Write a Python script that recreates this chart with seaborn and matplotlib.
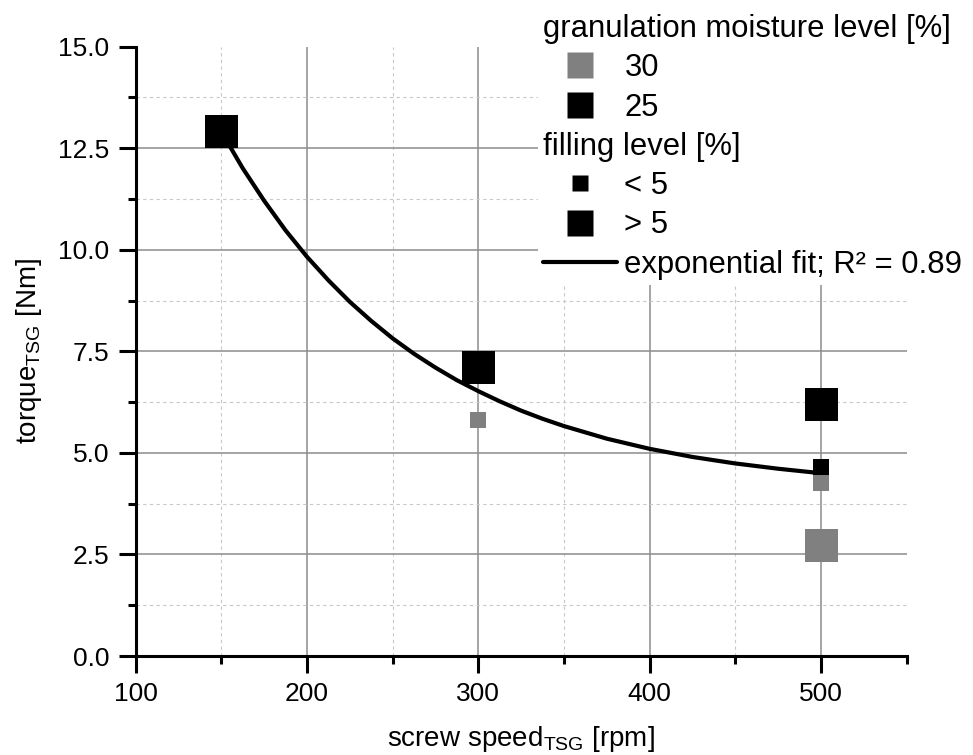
import numpy as np
import pandas as pd
import seaborn as sns
import matplotlib
matplotlib.use("Agg")
import matplotlib.pyplot as plt
from matplotlib.lines import Line2D
from matplotlib.ticker import MultipleLocator, FormatStrFormatter

# ---------------- data ----------------
speed = [300, 500, 500, 150, 300, 500, 500]
torque = [5.8, 4.27, 2.72, 12.9, 7.1, 6.2, 4.65]
moisture = ['30', '30', '30', '25', '25', '25', '25']
filling = ['< 5', '< 5', '> 5', '> 5', '> 5', '> 5', '< 5']

# exponential fit curve
fit_speed = [150, 162.5, 175, 187.5, 200, 212.5, 225, 237.5, 250, 262.5, 275, 287.5,
             300, 312.5, 325, 337.5, 350, 375, 400, 425, 450, 475, 500]
fit_torque = [12.91, 12.01, 11.21, 10.48, 9.83, 9.25, 8.72, 8.25, 7.82, 7.44, 7.10, 6.79,
              6.52, 6.27, 6.04, 5.84, 5.66, 5.35, 5.10, 4.90, 4.74, 4.61, 4.50]

moisture_levels = ['30', '25']
filling_levels = ['< 5', '> 5']
moisture_title = 'granulation moisture level [%]'
filling_title = 'filling level [%]'
fit_label = 'exponential fit; R² = 0.89'

x_label = r'screw speed$_{\mathregular{TSG}}$ [rpm]'
y_label = r'torque$_{\mathregular{TSG}}$ [Nm]'

# ---------------- style ----------------
sns.set_theme(style='white')
plt.rcParams['font.family'] = ['Liberation Sans', 'DejaVu Sans']
plt.rcParams['mathtext.fontset'] = 'custom'
plt.rcParams['mathtext.rm'] = 'Liberation Sans'
for k in ['text.color', 'axes.labelcolor', 'xtick.color', 'ytick.color']:
    plt.rcParams[k] = 'black'

palette = {'30': '#808080', '25': '#000000'}
sizes = {'< 5': 132, '> 5': 566}

df = pd.DataFrame({'speed': speed, 'torque': torque,
                   'moisture': moisture, 'filling': filling})

fig = plt.figure(figsize=(9.73, 7.55), dpi=100)
ax = fig.add_axes([0.1393, 0.1311, 0.7926, 0.8071])

sns.lineplot(x=fit_speed, y=fit_torque, color='black', lw=3, ax=ax, zorder=2,
             sort=False, estimator=None)
sns.scatterplot(data=df, x='speed', y='torque', hue='moisture', palette=palette,
                size='filling', sizes=sizes, marker='s', linewidth=0,
                legend=False, zorder=3, ax=ax)

ax.set_xlim(100, 550)
ax.set_ylim(0, 15)
ax.xaxis.set_major_locator(MultipleLocator(100))
ax.xaxis.set_minor_locator(MultipleLocator(50))
ax.yaxis.set_major_locator(MultipleLocator(2.5))
ax.yaxis.set_minor_locator(MultipleLocator(1.25))
ax.yaxis.set_major_formatter(FormatStrFormatter('%.1f'))

ax.set_axisbelow(True)
ax.grid(which='major', color='#8c8c8c', lw=1.1, ls='-')
ax.grid(which='minor', color='#c8c8c8', lw=0.8, ls=(0, (3, 3)))

for s in ['top', 'right']:
    ax.spines[s].set_visible(False)
for s in ['left', 'bottom']:
    ax.spines[s].set_linewidth(2.2)
    ax.spines[s].set_color('black')

ax.tick_params(which='major', direction='out', length=12, width=2.2, color='black',
               labelcolor='black', labelsize=19, pad=7, left=True, bottom=True)
ax.tick_params(which='minor', direction='out', length=6, width=2.2, color='black',
               left=True, bottom=True)

fig.canvas.draw()
for t in ax.yaxis.get_major_ticks():
    if abs(t.get_loc() - 15) < 1e-6:
        t.gridline.set_visible(False)
for t in ax.xaxis.get_minor_ticks():
    if abs(t.get_loc() - 550) < 1e-6:
        t.gridline.set_visible(False)

ax.set_xlabel(x_label, fontsize=20, labelpad=13, color='black')
ax.set_ylabel(y_label, fontsize=20, labelpad=10, color='black')

# ---------------- legend ----------------
blank1 = Line2D([], [], ls='none')
blank2 = Line2D([], [], ls='none')
handles = [
    blank1,
    Line2D([], [], ls='none', marker='s', ms=18.7, mfc=palette['30'], mec='none'),
    Line2D([], [], ls='none', marker='s', ms=18.7, mfc=palette['25'], mec='none'),
    blank2,
    Line2D([], [], ls='none', marker='s', ms=12.2, mfc='black', mec='none'),
    Line2D([], [], ls='none', marker='s', ms=18.7, mfc='black', mec='none'),
    Line2D([], [], color='black', lw=3),
]
labels = [moisture_title] + moisture_levels + [filling_title] + filling_levels + [fit_label]
leg = ax.legend(handles, labels, loc='upper left',
                bbox_to_anchor=(538 / 973, 1 - 9 / 755), bbox_transform=fig.transFigure,
                fontsize=22.3, frameon=True, framealpha=1, facecolor='white',
                edgecolor='none', fancybox=False, handlelength=2.4,
                handletextpad=0.23, labelspacing=0.3, borderpad=0.16,
                borderaxespad=0)
for txt in leg.get_texts():
    txt.set_color('black')
titles = {moisture_title, filling_title}
for col in leg._legend_handle_box.get_children():
    for item in col.get_children():
        da, ta = item.get_children()
        if ta.get_text() in titles:
            da.width = 0
            item.sep = 0

fig.savefig('out.png', dpi=100)
